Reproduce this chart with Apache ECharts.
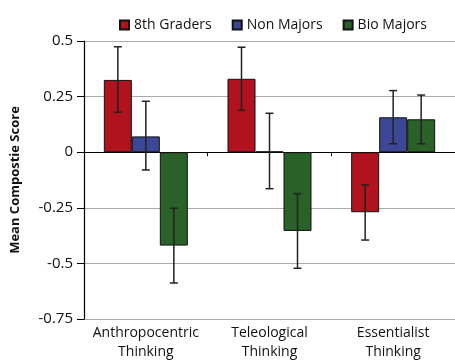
<!DOCTYPE html>
<html><head><meta charset="utf-8">
<script src="https://cdn.jsdelivr.net/npm/echarts@6/dist/echarts.min.js"></script>
<style>html,body{margin:0;padding:0;background:#fff}#c{width:455px;height:360px}</style>
</head><body><div id="c"></div>
<script>
const categories = ['Anthropocentric\nThinking', 'Teleological\nThinking', 'Essentialist\nThinking'];
const seriesNames = ['8th Graders', 'Non Majors', 'Bio Majors'];
const colors = ['#B0121E', '#3C4796', '#2A6128'];
const grade8 = [0.325, 0.33, -0.27];
const nonMajors = [0.071, 0.003, 0.157];
const bioMajors = [-0.42, -0.354, 0.148];
const grade8Err = [[0.18, 0.474], [0.188, 0.472], [-0.395, -0.147]];
const nonMajorsErr = [[-0.08, 0.229], [-0.164, 0.175], [0.038, 0.277]];
const bioMajorsErr = [[-0.588, -0.252], [-0.522, -0.186], [0.038, 0.257]];
const yTicks = [-0.75, -0.5, -0.25, 0, 0.25, 0.5];

const values = [grade8, nonMajors, bioMajors];
const errs = [grade8Err, nonMajorsErr, bioMajorsErr];
const BW = 28;
const font = '"Open Sans", sans-serif';

const chart = echarts.init(document.getElementById('c'));
const series = [];
values.forEach((v, i) => {
  series.push({
    name: seriesNames[i], type: 'bar', data: v, barWidth: BW, barGap: '0%',
    itemStyle: {color: colors[i], borderColor: '#111', borderWidth: 1},
    xAxisIndex: 0, z: 2
  });
});
errs.forEach((e, i) => {
  series.push({
    type: 'custom', xAxisIndex: 0, z: 5,
    data: e.map((d, k) => [k, d[0], d[1]]),
    renderItem: function (params, api) {
      const x = api.value(0);
      const lo = api.coord([x, api.value(1)]);
      const hi = api.coord([x, api.value(2)]);
      const cx = lo[0] + (i - 1) * BW;
      const cap = 4;
      const st = {stroke: '#222', lineWidth: 1.5};
      return {type: 'group', children: [
        {type: 'line', shape: {x1: cx, y1: lo[1], x2: cx, y2: hi[1]}, style: st},
        {type: 'line', shape: {x1: cx - cap, y1: lo[1], x2: cx + cap, y2: lo[1]}, style: st},
        {type: 'line', shape: {x1: cx - cap, y1: hi[1], x2: cx + cap, y2: hi[1]}, style: st}
      ]};
    }
  });
});

chart.setOption({
  animation: false,
  textStyle: {fontFamily: font},
  color: colors,
  legend: {
    data: seriesNames, top: 13, left: 114, itemWidth: 9, itemHeight: 9, itemGap: 20,
    icon: 'rect',
    textStyle: {fontSize: 14, color: '#111', fontFamily: font}
  },
  grid: {left: 84, right: 0, top: 41, bottom: 41, containLabel: false, outerBoundsMode: 'none'},
  xAxis: [{
    type: 'category', data: categories, position: 'bottom',
    axisLine: {show: false, onZero: false}, axisTick: {show: false},
    axisLabel: {interval: 0, fontSize: 14, color: '#111', margin: 5, lineHeight: 19, fontFamily: font}
  }, {
    type: 'category', data: categories, position: 'top',
    axisLine: {show: true, onZero: true, lineStyle: {color: '#000', width: 1.2}},
    axisTick: {show: true, inside: true, length: 4, lineStyle: {color: '#000'}},
    axisLabel: {show: false}
  }],
  yAxis: {
    type: 'value', min: -0.75, max: 0.5, interval: 0.25,
    name: 'Mean Compostie Score', nameLocation: 'middle', nameGap: 62,
    nameTextStyle: {fontSize: 13, fontWeight: 'bold', color: '#111', fontFamily: font},
    axisLine: {show: true, lineStyle: {color: '#000', width: 1.2}},
    axisTick: {show: true, length: 7, lineStyle: {color: '#000'}},
    axisLabel: {fontSize: 15, color: '#111', margin: 11, formatter: v => String(v), fontFamily: font},
    splitLine: {show: true, lineStyle: {color: '#aaa', width: 1.2}}
  },
  series: series
});
</script></body></html>
